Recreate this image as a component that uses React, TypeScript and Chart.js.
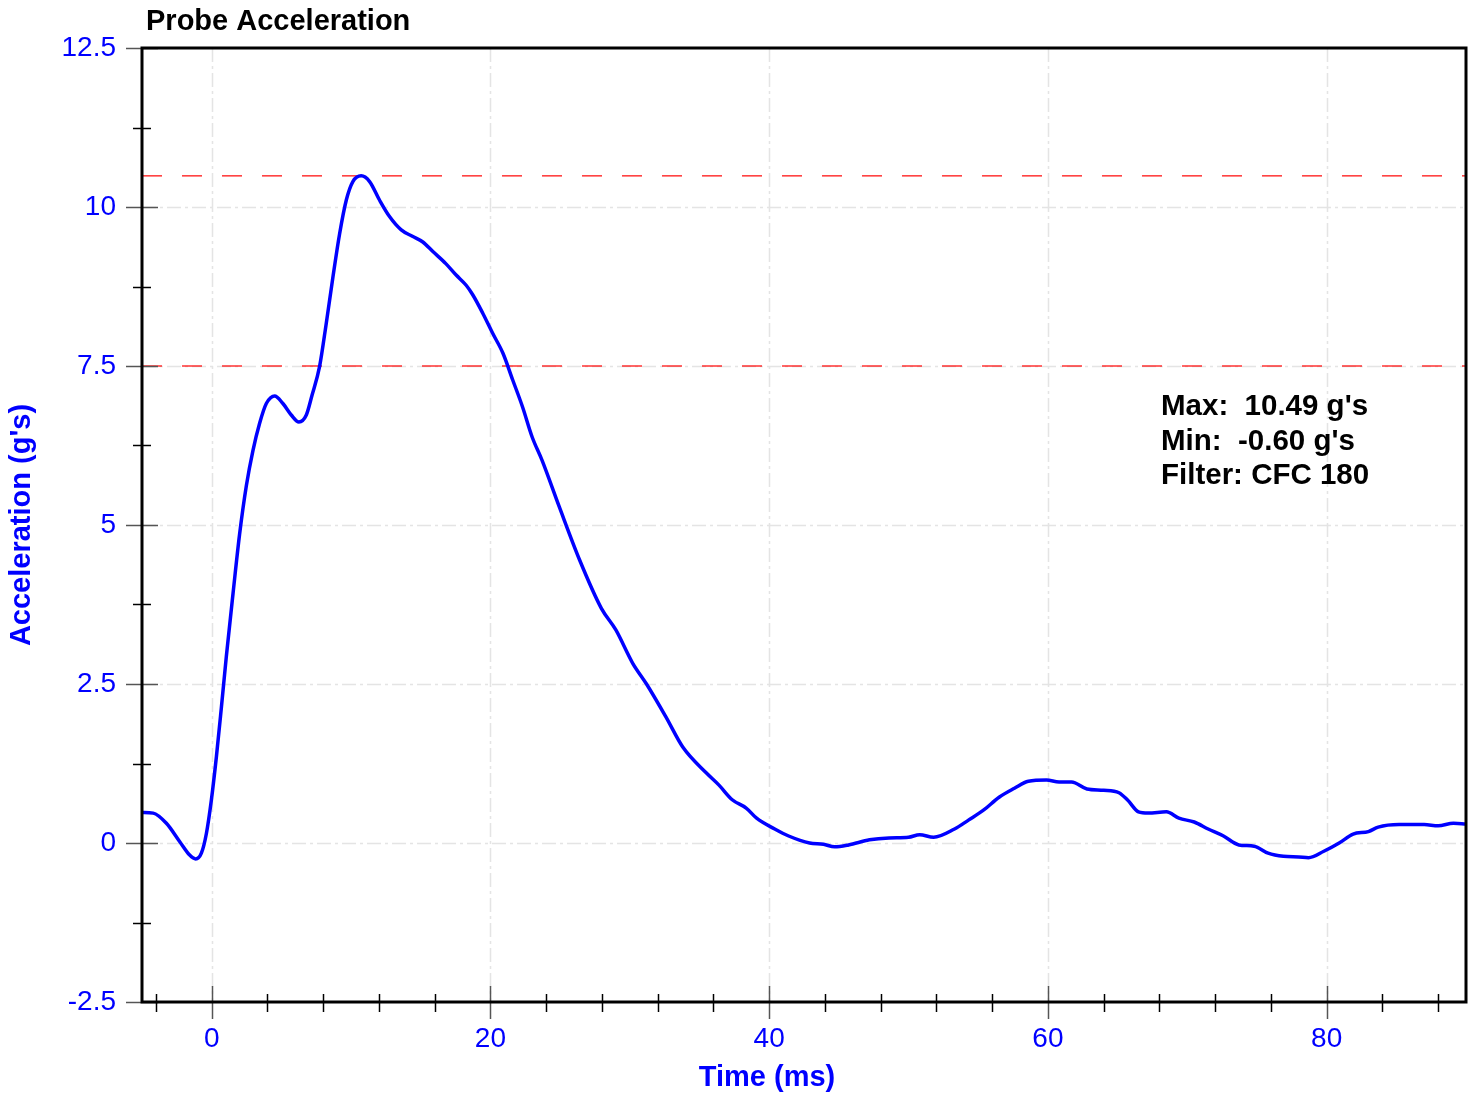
import React, { useEffect, useRef } from "react";
import { Chart, registerables } from "chart.js";

Chart.register(...registerables);

const timeMs: number[] = [
  -5, -4.2, -3.25, -2.29, -1.58, -1.15, -0.74, -0.38, -0.02, 0.34, 0.7, 1.05, 1.53, 2.0, 2.49, 2.96,
  3.44, 3.92, 4.52, 5.11, 5.71, 6.26, 6.79, 7.2, 7.74, 8.22, 8.7, 9.18, 9.66, 10.13, 10.73,
  11.33, 12.04, 12.76, 13.6, 14.4, 15.15, 15.87, 16.8, 17.54, 18.26, 18.73, 19.45, 20.17, 20.9,
  21.6, 22.3, 23.0, 23.7, 24.95, 26.4, 27.96, 29.0, 30.2, 31.2, 32.6, 33.8, 35.5, 36.4, 37.35,
  38.35, 39.1, 40.4, 41.4, 42.9, 43.9, 44.7, 45.7, 47.2, 48.6, 50.0, 50.8, 51.8, 53.3, 54.3, 55.4,
  56.5, 57.6, 58.6, 59.9, 60.8, 61.7, 62.8, 64.0, 65.1, 65.7, 66.5, 67.2, 68.5, 69.4, 70.5, 71.5,
  72.6, 73.7, 74.8, 75.8, 76.9, 78.0, 78.7, 79.8, 80.9, 81.9, 83.0, 83.7, 85.2, 87.0, 88.0, 89.1, 90,
];

const accelG: number[] = [
  0.48, 0.47, 0.31, 0.02, -0.19, -0.25, -0.16, 0.15, 0.68, 1.36, 2.14, 2.93, 3.92, 4.85, 5.62, 6.17,
  6.6, 6.91, 7.03, 6.91, 6.73, 6.62, 6.73, 7.04, 7.49, 8.17, 8.9, 9.58, 10.11, 10.4, 10.49,
  10.4, 10.11, 9.85, 9.64, 9.54, 9.45, 9.3, 9.11, 8.93, 8.77, 8.62, 8.33, 8.01, 7.7,
  7.28, 6.86, 6.38, 6.02, 5.28, 4.45, 3.69, 3.35, 2.83, 2.5, 1.98, 1.51, 1.1, 0.91, 0.68,
  0.55, 0.39, 0.22, 0.11, 0.0, -0.02, -0.06, -0.03, 0.05, 0.08, 0.09, 0.13, 0.09, 0.22, 0.36, 0.52,
  0.72, 0.86, 0.97, 0.99, 0.96, 0.96, 0.85, 0.83, 0.79, 0.68, 0.49, 0.47, 0.49, 0.39, 0.33, 0.22,
  0.11, -0.03, -0.05, -0.16, -0.21, -0.22, -0.23, -0.13, 0.0, 0.14, 0.18, 0.25, 0.29, 0.29, 0.27, 0.31, 0.3,
];

const maxValue = 10.49;
const thresholdValue = 7.5;
const xRange = [-5, 90];
const yRange = [-2.5, 12.5];
const xTickValues: number[] = [-4, 0, 4, 8, 12, 16, 20, 24, 28, 32, 36, 40, 44, 48, 52, 56, 60, 64, 68, 72, 76, 80, 84, 88];
const xMajorTicks: number[] = [0, 20, 40, 60, 80];
const yTickValues: number[] = [-2.5, -1.25, 0, 1.25, 2.5, 3.75, 5, 6.25, 7.5, 8.75, 10, 11.25, 12.5];
const yMajorTicks: number[] = [-2.5, 0, 2.5, 5, 7.5, 10, 12.5];
const statsLines: string[] = ["Max:  10.49 g's", "Min:  -0.60 g's", "Filter: CFC 180"];
const chartTitle = "Probe Acceleration";
const xTitle = "Time (ms)";
const yTitle = "Acceleration (g's)";

const FONT = "'Liberation Sans', Arial, sans-serif";
const BLUE = "#0000ff";

const isMajor = (list: number[], v: number) => list.some((m) => Math.abs(m - v) < 1e-6);

const decorPlugin = {
  id: "decor",
  beforeDatasetsDraw(chart: any) {
    const { ctx, chartArea, scales } = chart;
    const xs = scales.x;
    const ys = scales.y;
    ctx.save();
    ctx.strokeStyle = "#e4e4e4";
    ctx.lineWidth = 1.5;
    ctx.setLineDash([14, 4, 3, 4]);
    xMajorTicks.forEach((v) => {
      const px = Math.round(xs.getPixelForValue(v)) + 0.5;
      ctx.beginPath();
      ctx.moveTo(px, chartArea.top);
      ctx.lineTo(px, chartArea.bottom);
      ctx.stroke();
    });
    yMajorTicks.forEach((v) => {
      if (v === yRange[0] || v === yRange[1]) return;
      const py = Math.round(ys.getPixelForValue(v)) + 0.5;
      ctx.beginPath();
      ctx.moveTo(chartArea.left, py);
      ctx.lineTo(chartArea.right, py);
      ctx.stroke();
    });
    ctx.restore();
  },
  afterDatasetsDraw(chart: any) {
    const { ctx, chartArea, scales } = chart;
    const xs = scales.x;
    const ys = scales.y;
    const { left, right, top, bottom } = chartArea;
    ctx.save();
    ctx.setLineDash([]);
    ctx.lineWidth = 1.5;
    yTickValues.forEach((v) => {
      const py = Math.round(ys.getPixelForValue(v)) + 0.5;
      ctx.beginPath();
      if (isMajor(yMajorTicks, v)) {
        ctx.strokeStyle = "#555555";
        ctx.moveTo(left - 16, py);
        ctx.lineTo(left + 16, py);
      } else {
        ctx.strokeStyle = "#000000";
        ctx.moveTo(left - 9, py);
        ctx.lineTo(left + 9, py);
      }
      ctx.stroke();
    });
    xTickValues.forEach((v) => {
      const px = Math.round(xs.getPixelForValue(v)) + 0.5;
      ctx.beginPath();
      if (isMajor(xMajorTicks, v)) {
        ctx.strokeStyle = "#555555";
        ctx.moveTo(px, bottom - 16);
        ctx.lineTo(px, bottom + 17);
      } else {
        ctx.strokeStyle = "#000000";
        ctx.moveTo(px, bottom - 8);
        ctx.lineTo(px, bottom + 10);
      }
      ctx.stroke();
    });
    ctx.strokeStyle = "#000000";
    ctx.lineWidth = 3;
    ctx.strokeRect(left, top, right - left, bottom - top);

    ctx.fillStyle = "#000000";
    ctx.font = `bold 29px ${FONT}`;
    ctx.textAlign = "left";
    ctx.textBaseline = "middle";
    ctx.fillText(chartTitle, 146, 22);

    ctx.font = `bold 29.5px ${FONT}`;
    statsLines.forEach((s, i) => {
      ctx.fillText(s, 1161, 407 + i * 34.5);
    });

    ctx.font = `bold 29px ${FONT}`;
    ctx.fillStyle = BLUE;
    ctx.textAlign = "center";
    ctx.fillText(xTitle, 767, 1078);

    ctx.translate(22, (top + bottom) / 2);
    ctx.rotate(-Math.PI / 2);
    ctx.fillText(yTitle, 0, 0);
    ctx.restore();
  },
};

export default function App() {
  const canvasRef = useRef<HTMLCanvasElement | null>(null);

  useEffect(() => {
    if (!canvasRef.current) return;
    const points = timeMs.map((t, i) => ({ x: t, y: accelG[i] }));
    const chart = new Chart(canvasRef.current, {
      type: "line",
      data: {
        datasets: [
          {
            label: "Acceleration",
            data: points,
            borderColor: BLUE,
            borderWidth: 3.5,
            pointRadius: 0,
            cubicInterpolationMode: "monotone",
            fill: false,
          },
          {
            label: "Max",
            data: [
              { x: xRange[0], y: maxValue },
              { x: xRange[1], y: maxValue },
            ],
            borderColor: "rgba(255,0,0,0.8)",
            borderWidth: 1.5,
            borderDash: [20, 20],
            pointRadius: 0,
            fill: false,
          },
          {
            label: "Threshold",
            data: [
              { x: xRange[0], y: thresholdValue },
              { x: xRange[1], y: thresholdValue },
            ],
            borderColor: "rgba(255,0,0,0.8)",
            borderWidth: 1.5,
            borderDash: [20, 20],
            pointRadius: 0,
            fill: false,
          },
        ],
      },
      options: {
        responsive: false,
        animation: false,
        events: [],
        layout: { padding: { top: 48, right: 10, left: 0, bottom: 0 } },
        plugins: {
          legend: { display: false },
          tooltip: { enabled: false },
          title: { display: false },
        },
        scales: {
          x: {
            type: "linear",
            min: xRange[0],
            max: xRange[1],
            afterBuildTicks: (scale: any) => {
              scale.ticks = xTickValues.map((v) => ({ value: v }));
            },
            afterFit: (scale: any) => {
              scale.height = 91;
            },
            grid: { display: false, drawTicks: false },
            border: { display: false },
            ticks: {
              autoSkip: false,
              maxRotation: 0,
              padding: 20,
              color: BLUE,
              font: { family: FONT, size: 28 },
              callback: (v: any) => (isMajor(xMajorTicks, Number(v)) ? String(v) : ""),
            },
          },
          y: {
            type: "linear",
            min: yRange[0],
            max: yRange[1],
            afterBuildTicks: (scale: any) => {
              scale.ticks = yTickValues.map((v) => ({ value: v }));
            },
            afterFit: (scale: any) => {
              scale.width = 142;
            },
            grid: { display: false, drawTicks: false },
            border: { display: false },
            ticks: {
              autoSkip: false,
              padding: 26,
              color: BLUE,
              font: { family: FONT, size: 28 },
              callback: (v: any) => (isMajor(yMajorTicks, Number(v)) ? String(v) : ""),
            },
          },
        },
      },
      plugins: [decorPlugin],
    } as any);
    return () => chart.destroy();
  }, []);

  return (
    <div style={{ position: "absolute", left: 0, top: 0, width: 1476, height: 1093, background: "#ffffff" }}>
      <canvas ref={canvasRef} width={1476} height={1093} style={{ display: "block" }} />
    </div>
  );
}
